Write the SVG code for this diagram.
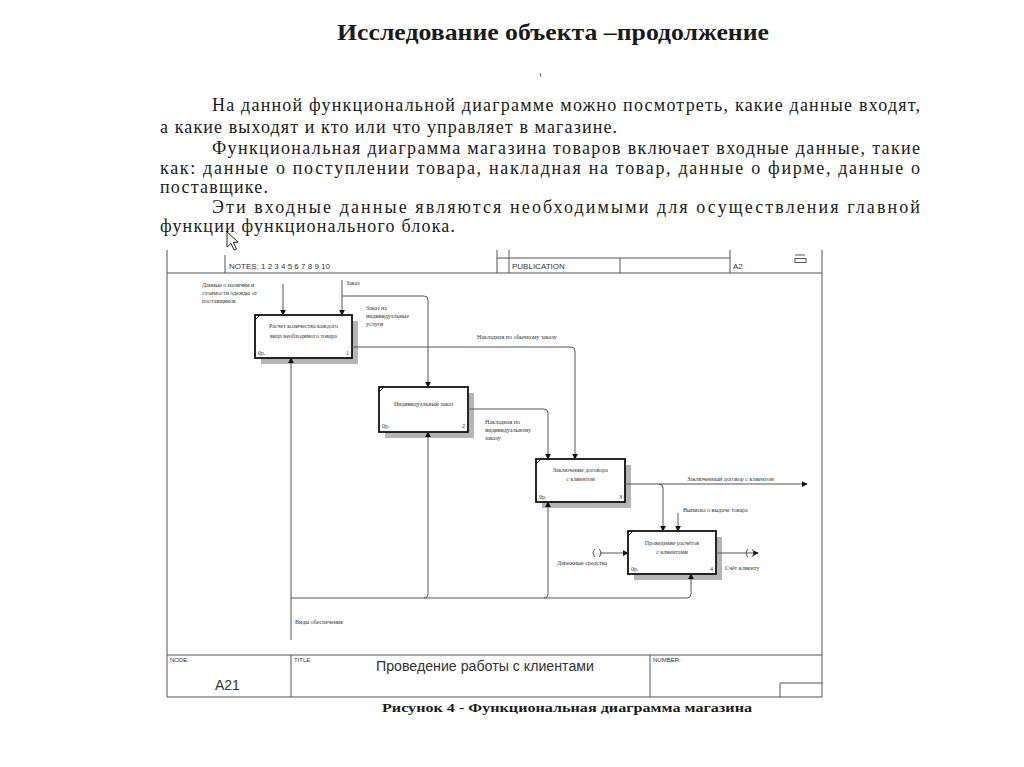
<svg xmlns="http://www.w3.org/2000/svg" width="1024" height="767" viewBox="0 0 1024 767">
<style>
.t{font-family:"Liberation Serif","Times New Roman",serif;fill:#1a1a1a}
.p{font-size:18px}
.s{font-family:"Liberation Serif","Times New Roman",serif;font-size:6px;fill:#333}
.a{font-family:"Liberation Sans",Arial,sans-serif;fill:#333}
.fr{stroke:#555;stroke-width:1;fill:none}
.box{fill:#fff;stroke:#111;stroke-width:1.8}
.sh{fill:#b5b5b5}
.c{stroke:#555;stroke-width:1;fill:none}
.ca{stroke:#555;stroke-width:1;fill:none;marker-end:url(#ah)}
</style>
<defs>
<marker id="ah" viewBox="0 0 8 8" refX="7" refY="4" markerWidth="6" markerHeight="6" orient="auto" markerUnits="userSpaceOnUse">
<path d="M0,0 L8,4 L0,8 Z" fill="#111"/>
</marker>
</defs>
<rect width="1024" height="767" fill="#fff"/>

<text class="t" x="553" y="40" font-size="24" font-weight="bold" text-anchor="middle" textLength="432" lengthAdjust="spacingAndGlyphs">Исследование объекта –продолжение</text>
<path d="M540,73 l1,4" stroke="#666" stroke-width="1"/>

<g id="paragraph">
<text class="t p" x="212" y="111" textLength="708" lengthAdjust="spacing">На данной функциональной диаграмме можно посмотреть, какие данные входят,</text>
<text class="t p" x="160" y="133" textLength="457" lengthAdjust="spacing">а какие выходят и кто или что управляет в магазине.</text>
<text class="t p" x="212" y="154" textLength="708" lengthAdjust="spacing">Функциональная диаграмма магазина товаров включает входные данные, такие</text>
<text class="t p" x="160" y="174" textLength="760" lengthAdjust="spacing">как: данные о поступлении товара, накладная на товар, данные о фирме, данные о</text>
<text class="t p" x="160" y="193" textLength="108" lengthAdjust="spacing">поставщике.</text>
<text class="t p" x="212" y="213" textLength="708" lengthAdjust="spacing">Эти входные данные являются необходимыми для осуществления главной</text>
<text class="t p" x="160" y="232" textLength="295" lengthAdjust="spacing">функции функционального блока.</text>
</g>
<path d="M227,232 L227,247 L231,243.5 L234,250 L236.5,249 L233.5,242.5 L238,242 Z" fill="#fff" stroke="#222" stroke-width="1"/>

<g id="frame">
<path class="fr" d="M167,250 V697 M822,250 V697 M167,273 H822 M225,255 V273 M497,250 V273 M509,250 V273 M620,258 V273 M730,250 V273 M497,258 H730"/>
<text class="a" x="229" y="269" font-size="8">NOTES:  1  2  3  4  5  6  7  8  9  10</text>
<text class="a" x="512" y="269" font-size="8">PUBLICATION</text>
<text class="a" x="733" y="269" font-size="8">A2</text>
<path d="M795,255 H805" stroke="#555" stroke-width="1"/>
<rect x="795" y="258.5" width="11" height="4" fill="none" stroke="#555" stroke-width="1"/>
<path class="fr" d="M167,655 H822 M291,655 V697 M650,655 V697 M167,697 H822 M780,683 H822 M780,683 V697"/>
<text class="a" x="170" y="662" font-size="6">NODE:</text>
<text class="a" x="294" y="662" font-size="6">TITLE:</text>
<text class="a" x="653" y="662" font-size="6">NUMBER:</text>
<text class="a" x="215" y="690" font-size="14" fill="#222">A21</text>
<text class="a" x="376" y="671" font-size="14" fill="#222" textLength="218" lengthAdjust="spacingAndGlyphs">Проведение работы с клиентами</text>
</g>

<g id="box1">
<rect class="sh" x="261" y="321" width="97" height="43"/>
<rect class="box" x="255" y="315" width="97" height="43"/>
<path d="M255,320 L260,315" stroke="#111" stroke-width="1"/>
<text class="s" x="303.5" y="328" text-anchor="middle">Расчет количества каждого</text>
<text class="s" x="303.5" y="338" text-anchor="middle">вида необходимого товара</text>
<text class="s" x="258" y="355">0р.</text>
<text class="s" x="349" y="355" text-anchor="end">1</text>
</g>
<g id="box2">
<rect class="sh" x="385" y="393" width="89" height="45"/>
<rect class="box" x="379" y="387" width="89" height="45"/>
<path d="M379,392 L384,387" stroke="#111" stroke-width="1"/>
<text class="s" x="423.5" y="406" text-anchor="middle">Индивидуальный заказ</text>
<text class="s" x="382" y="428">0р.</text>
<text class="s" x="465" y="428" text-anchor="end">2</text>
</g>
<g id="box3">
<rect class="sh" x="542" y="465" width="89" height="43"/>
<rect class="box" x="536" y="459" width="89" height="43"/>
<path d="M536,464 L541,459" stroke="#111" stroke-width="1"/>
<text class="s" x="580.5" y="472" text-anchor="middle">Заключение договора</text>
<text class="s" x="580.5" y="481" text-anchor="middle">с клиентом</text>
<text class="s" x="539" y="499">0р.</text>
<text class="s" x="622" y="499" text-anchor="end">3</text>
</g>
<g id="box4">
<rect class="sh" x="634" y="537" width="88" height="43"/>
<rect class="box" x="628" y="531" width="88" height="43"/>
<path d="M628,536 L633,531" stroke="#111" stroke-width="1"/>
<text class="s" x="672" y="545" text-anchor="middle">Проведение расчётов</text>
<text class="s" x="672" y="554" text-anchor="middle">с клиентами</text>
<text class="s" x="631" y="571">0р.</text>
<text class="s" x="713" y="571" text-anchor="end">4</text>
</g>

<g id="connectors">
<path class="ca" d="M283,284 V315"/>
<path class="ca" d="M342,280 V315"/>
<path class="ca" d="M342,296 H424 Q428,296 428,300 V387"/>
<path class="ca" d="M352,347 H571 Q575,347 575,351 V459"/>
<path class="ca" d="M468,409 H544 Q548,409 548,413 V459"/>
<path class="ca" d="M625,484 H807"/>
<path class="ca" d="M659,484 Q663,484 663,488 V531"/>
<path class="ca" d="M678,513 V531"/>
<path class="ca" d="M600,553 H628"/>
<path class="c" d="M595,549 Q591,553 595,557 M599,549 Q603,553 599,557"/>
<path class="ca" d="M716,553 H758"/>
<path class="c" d="M748,549 Q744,553 748,557 M752,549 Q756,553 752,557"/>
<path class="ca" d="M291,640 V358"/>
<path class="ca" d="M291,598 H687 Q691,598 691,594 V574"/>
<path class="ca" d="M424,598 Q428,598 428,594 V432"/>
<path class="ca" d="M544,598 Q548,598 548,594 V502"/>
<text class="s" x="202" y="287">Данные о наличии и</text>
<text class="s" x="202" y="295">стоимости одежды от</text>
<text class="s" x="202" y="303">поставщиков</text>
<text class="s" x="346" y="285">Заказ</text>
<text class="s" x="366" y="310">Заказ на</text>
<text class="s" x="366" y="318">индивидуальные</text>
<text class="s" x="366" y="326">услуги</text>
<text class="s" x="477" y="339">Накладная по обычному заказу</text>
<text class="s" x="485" y="424">Накладная по</text>
<text class="s" x="485" y="432">индивидуальному</text>
<text class="s" x="485" y="440">заказу</text>
<text class="s" x="687" y="481">Заключенный договор с клиентом</text>
<text class="s" x="683" y="512">Выписка о выдаче товара</text>
<text class="s" x="557" y="565">Денежные средства</text>
<text class="s" x="725" y="570">Счёт клиенту</text>
<text class="s" x="295" y="624">Виды обеспечения</text>
</g>

<text class="t" x="567" y="712" font-size="13" font-weight="bold" text-anchor="middle" textLength="370" lengthAdjust="spacingAndGlyphs">Рисунок 4 - Функциональная диаграмма магазина</text>
</svg>
